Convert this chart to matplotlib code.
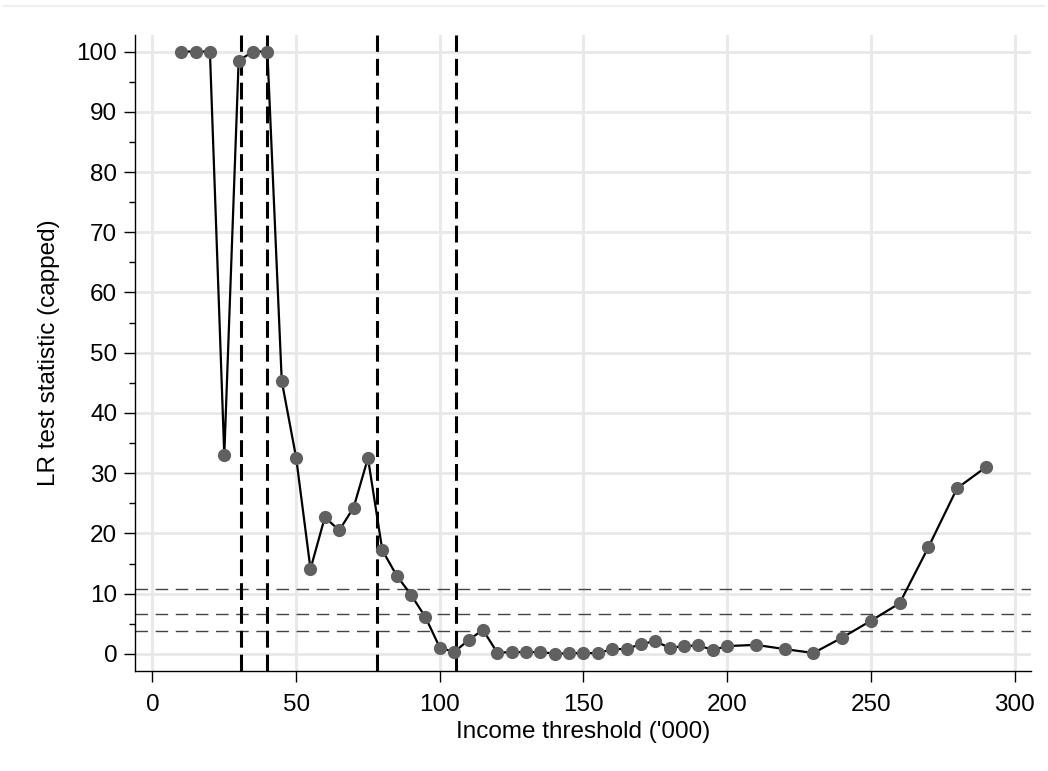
import matplotlib.pyplot as plt
from matplotlib.lines import Line2D

# income thresholds ('000) and capped LR statistic
threshold = [10, 15, 20, 25, 30, 35, 40, 45, 50, 55, 60, 65, 70, 75, 80, 85, 90, 95,
             100, 105, 110, 115, 120, 125, 130, 135, 140, 145, 150, 155, 160, 165,
             170, 175, 180, 185, 190, 195, 200, 210, 220, 230, 240, 250, 260, 270,
             280, 290]
lr_stat = [100, 100, 100, 33.0, 98.5, 100, 100, 45.3, 32.6, 14.1, 22.7, 20.5, 24.3, 32.5,
           17.2, 13.0, 9.8, 6.1, 1.05, 0.3, 2.3, 4.0, 0.2, 0.3, 0.3, 0.3, 0.05, 0.1,
           0.15, 0.1, 0.8, 0.8, 1.65, 2.1, 1.0, 1.3, 1.4, 0.65, 1.3, 1.5, 0.8, 0.15,
           2.7, 5.5, 8.4, 17.7, 27.5, 31.0]

# break points (vertical) and chi2 critical values (horizontal)
breaks = [30.9, 40.0, 78.3, 105.5]
crit = [3.84, 6.63, 10.83]

plt.rcParams['font.family'] = ['Liberation Sans', 'DejaVu Sans']
plt.rcParams['font.size'] = 17.5

fig = plt.figure(figsize=(10.48, 7.71), dpi=100)
ax = fig.add_axes([0.129, 0.13, 0.855, 0.825])

ax.set_xlim(-6, 305.8)
ax.set_ylim(-2.8, 102.8)
ax.set_xticks(range(0, 301, 50))
ax.set_yticks(range(0, 101, 10))
ax.set_yticks(range(5, 100, 10), minor=True)

ax.grid(True, which='major', color='#e8e8e8', linewidth=2.0, zorder=0)
ax.set_axisbelow(True)

for c in crit:
    ax.axhline(c, color='#444444', linewidth=1.0, dashes=(9, 5.5), zorder=1)
for b in breaks:
    ax.axvline(b, color='black', linewidth=2.2, dashes=(5.5, 2.3), zorder=2)

ax.plot(threshold, lr_stat, color='black', linewidth=1.6, zorder=3)
ax.plot(threshold, lr_stat, 'o', color='#606060', markersize=9.5,
        markeredgewidth=0, zorder=4)

for s in ['top', 'right']:
    ax.spines[s].set_visible(False)
for s in ['left', 'bottom']:
    ax.spines[s].set_linewidth(1.0)

ax.tick_params(axis='both', which='major', length=8, width=1, direction='out')
ax.tick_params(axis='y', which='minor', length=4, width=1)
ax.tick_params(axis='y', pad=5)
ax.tick_params(axis='x', pad=9)

ax.set_xlabel("Income threshold ('000)", labelpad=3)
ax.set_ylabel("LR test statistic (capped)", labelpad=12)

# faint rule at the top of the graph region
fig.add_artist(Line2D([0.003, 0.997], [0.992, 0.992], color='#eeeeee', linewidth=1.2))

fig.savefig('out.png', dpi=100, facecolor='white')
